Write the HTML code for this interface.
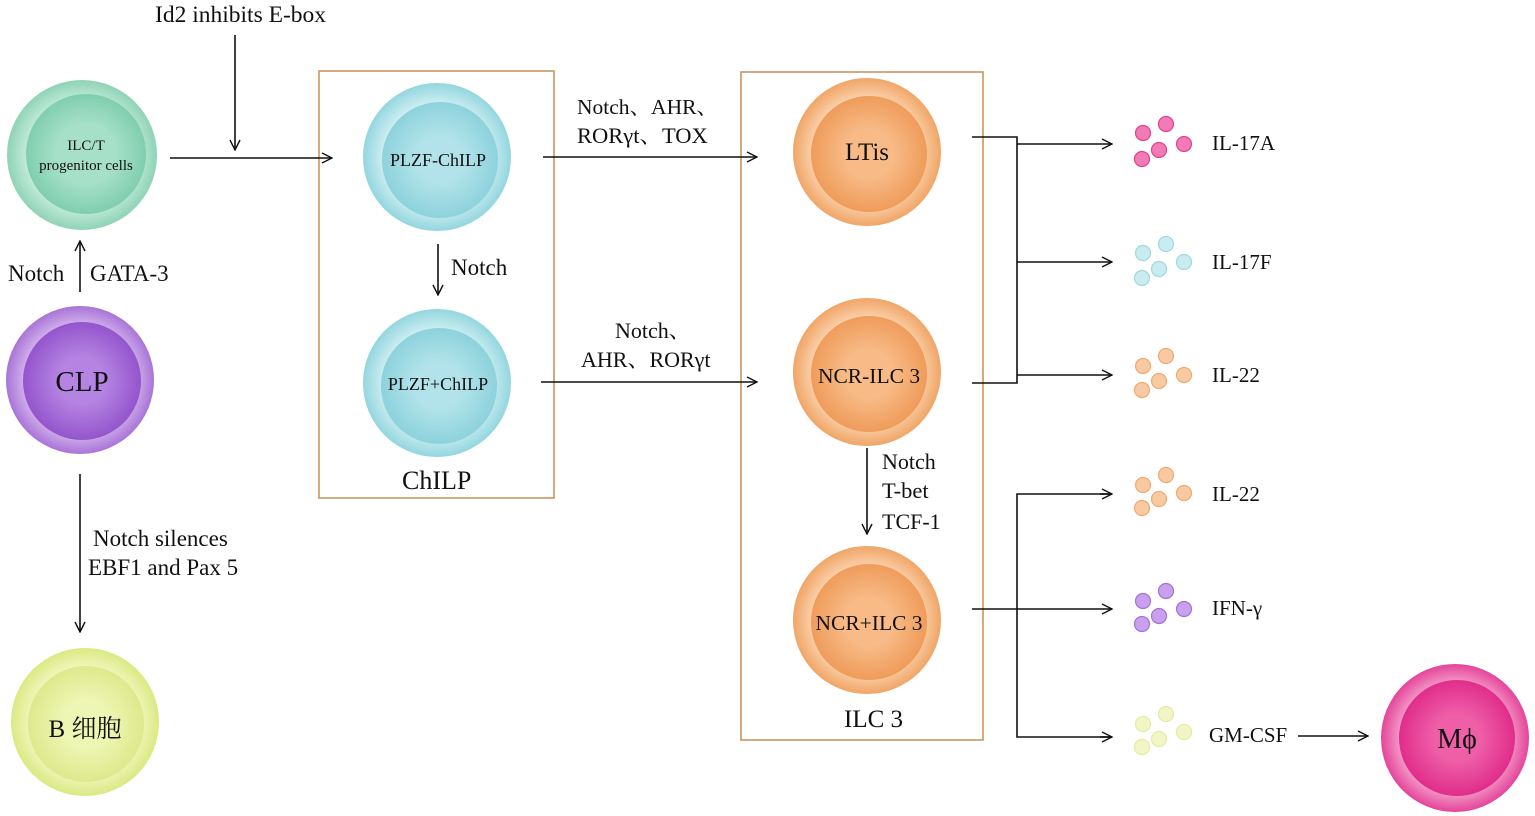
<!DOCTYPE html>
<html><head><meta charset="utf-8"><style>
html,body{margin:0;padding:0;background:#fff;}
svg{display:block;font-family:"Liberation Serif","Noto Serif CJK SC",serif;}
</style></head><body>
<svg width="1535" height="816" viewBox="0 0 1535 816" xmlns="http://www.w3.org/2000/svg">
<defs>
<marker id="ar" viewBox="0 0 12 12" refX="11" refY="6" markerWidth="12" markerHeight="12" markerUnits="userSpaceOnUse" orient="auto">
<path d="M1,1 L11,6 L1,11" fill="none" stroke="#111" stroke-width="1.4"/></marker>
<radialGradient id="to"><stop offset="0.7" stop-color="#c9eedf"/><stop offset="1" stop-color="#8fd3b6"/></radialGradient>
<radialGradient id="ti"><stop offset="0.5" stop-color="#a6e0c8"/><stop offset="1" stop-color="#80ceaf"/></radialGradient>
<radialGradient id="po"><stop offset="0.7" stop-color="#dcbdf2"/><stop offset="1" stop-color="#a874d6"/></radialGradient>
<radialGradient id="pi"><stop offset="0.4" stop-color="#b583e2"/><stop offset="1" stop-color="#9455cc"/></radialGradient>
<radialGradient id="yo"><stop offset="0.7" stop-color="#f3f8c4"/><stop offset="1" stop-color="#dbe983"/></radialGradient>
<radialGradient id="yi"><stop offset="0.4" stop-color="#eef6b4"/><stop offset="1" stop-color="#dde98c"/></radialGradient>
<radialGradient id="bo"><stop offset="0.7" stop-color="#d2f0f3"/><stop offset="1" stop-color="#93d6df"/></radialGradient>
<radialGradient id="bi"><stop offset="0.4" stop-color="#b2e3ea"/><stop offset="1" stop-color="#8dd2dc"/></radialGradient>
<radialGradient id="oo"><stop offset="0.7" stop-color="#fcd6b4"/><stop offset="1" stop-color="#f0a566"/></radialGradient>
<radialGradient id="oi"><stop offset="0.4" stop-color="#f8bb88"/><stop offset="1" stop-color="#ef9c5a"/></radialGradient>
<radialGradient id="ko"><stop offset="0.7" stop-color="#f7a8d0"/><stop offset="1" stop-color="#e4449a"/></radialGradient>
<radialGradient id="ki"><stop offset="0.4" stop-color="#ee5fa8"/><stop offset="1" stop-color="#e02d8a"/></radialGradient>
</defs>

<rect x="319" y="71" width="235" height="427" fill="none" stroke="#c9955f" stroke-width="1.6"/>
<rect x="741" y="72" width="242" height="668" fill="none" stroke="#c9955f" stroke-width="1.6"/>

<g>
<circle cx="82" cy="155" r="75" fill="url(#to)"/><circle cx="86" cy="154" r="60" fill="url(#ti)"/>
<circle cx="80" cy="380" r="74" fill="url(#po)"/><circle cx="82" cy="381" r="59" fill="url(#pi)"/>
<circle cx="85" cy="722" r="74" fill="url(#yo)"/><circle cx="86" cy="724" r="58" fill="url(#yi)"/>
<circle cx="437" cy="157" r="74" fill="url(#bo)"/><circle cx="440" cy="160" r="58" fill="url(#bi)"/>
<circle cx="437" cy="383" r="74" fill="url(#bo)"/><circle cx="439" cy="386" r="58" fill="url(#bi)"/>
<circle cx="867" cy="152" r="74" fill="url(#oo)"/><circle cx="869" cy="154" r="58" fill="url(#oi)"/>
<circle cx="867" cy="372" r="74" fill="url(#oo)"/><circle cx="869" cy="374" r="58" fill="url(#oi)"/>
<circle cx="867" cy="620" r="74" fill="url(#oo)"/><circle cx="869" cy="622" r="58" fill="url(#oi)"/>
<circle cx="1455" cy="738" r="74" fill="url(#ko)"/><circle cx="1457" cy="738" r="58" fill="url(#ki)"/>
</g>

<g stroke-width="1.2">
<g fill="#f27bb5" stroke="#e0428f"><circle cx="1143" cy="133" r="7.5"/><circle cx="1166" cy="124" r="7.5"/><circle cx="1159" cy="150" r="7.5"/><circle cx="1142" cy="159" r="7.5"/><circle cx="1184" cy="144" r="7.5"/></g>
<g fill="#c9ecf0" stroke="#9fd9e1"><circle cx="1143" cy="253" r="7.5"/><circle cx="1166" cy="244" r="7.5"/><circle cx="1159" cy="269" r="7.5"/><circle cx="1142" cy="278" r="7.5"/><circle cx="1184" cy="262" r="7.5"/></g>
<g fill="#f9c9a2" stroke="#f0aa74"><circle cx="1143" cy="366" r="7.5"/><circle cx="1166" cy="356" r="7.5"/><circle cx="1159" cy="381" r="7.5"/><circle cx="1142" cy="390" r="7.5"/><circle cx="1184" cy="375" r="7.5"/></g>
<g fill="#f9c9a2" stroke="#f0aa74"><circle cx="1143" cy="485" r="7.5"/><circle cx="1166" cy="475" r="7.5"/><circle cx="1159" cy="499" r="7.5"/><circle cx="1142" cy="508" r="7.5"/><circle cx="1184" cy="493" r="7.5"/></g>
<g fill="#c9a0ee" stroke="#a273d6"><circle cx="1143" cy="601" r="7.5"/><circle cx="1166" cy="591" r="7.5"/><circle cx="1159" cy="616" r="7.5"/><circle cx="1142" cy="624" r="7.5"/><circle cx="1184" cy="609" r="7.5"/></g>
<g fill="#f2f6c6" stroke="#e4ec9e"><circle cx="1143" cy="724" r="7.5"/><circle cx="1166" cy="714" r="7.5"/><circle cx="1159" cy="739" r="7.5"/><circle cx="1142" cy="747" r="7.5"/><circle cx="1184" cy="732" r="7.5"/></g>
</g>

<g stroke="#111" stroke-width="1.6" fill="none">
<line x1="170" y1="158" x2="332" y2="158" marker-end="url(#ar)"/>
<line x1="235" y1="35" x2="235" y2="150" marker-end="url(#ar)"/>
<line x1="80" y1="292" x2="80" y2="241" marker-end="url(#ar)"/>
<line x1="80" y1="474" x2="80" y2="632" marker-end="url(#ar)"/>
<line x1="438" y1="244" x2="438" y2="295" marker-end="url(#ar)"/>
<line x1="543" y1="157" x2="757" y2="157" marker-end="url(#ar)"/>
<line x1="541" y1="382" x2="757" y2="382" marker-end="url(#ar)"/>
<polyline points="972,137 1017,137 1017,383 972,383"/>
<line x1="1017" y1="144" x2="1112" y2="144" marker-end="url(#ar)"/>
<line x1="1017" y1="262" x2="1112" y2="262" marker-end="url(#ar)"/>
<line x1="1017" y1="375" x2="1112" y2="375" marker-end="url(#ar)"/>
<line x1="867" y1="448" x2="867" y2="534" marker-end="url(#ar)"/>
<line x1="972" y1="609" x2="1112" y2="609" marker-end="url(#ar)"/>
<polyline points="1112,494 1017,494 1017,737 1112,737"/>
<line x1="1100" y1="494" x2="1112" y2="494" marker-end="url(#ar)"/>
<line x1="1100" y1="737" x2="1112" y2="737" marker-end="url(#ar)"/>
<line x1="1298" y1="736" x2="1368" y2="736" marker-end="url(#ar)"/>
</g>

<g fill="#111" font-size="23">
<text x="155" y="22" font-size="23.5">Id2 inhibits E-box</text>
<text x="8" y="281">Notch</text>
<text x="90" y="281">GATA-3</text>
<text x="93" y="546">Notch silences</text>
<text x="88" y="575">EBF1 and Pax 5</text>
<text x="451" y="275">Notch</text>
<text x="577" y="114" font-size="21.5">Notch、AHR、</text>
<text x="577" y="143" font-size="22.5">RORγt、TOX</text>
<text x="615" y="338" font-size="22">Notch、</text>
<text x="581" y="367" font-size="22">AHR、RORγt</text>
<text x="882" y="469" font-size="22">Notch</text>
<text x="882" y="498" font-size="22.5">T-bet</text>
<text x="882" y="529" font-size="22">TCF-1</text>
<text x="402" y="489" font-size="26">ChILP</text>
<text x="844" y="727" font-size="25">ILC 3</text>
</g>
<g fill="#111" font-size="21">
<text x="1212" y="150">IL-17A</text>
<text x="1212" y="269">IL-17F</text>
<text x="1212" y="382">IL-22</text>
<text x="1212" y="501">IL-22</text>
<text x="1212" y="615">IFN-γ</text>
<text x="1209" y="742">GM-CSF</text>
</g>
<g fill="#111" text-anchor="middle">
<text x="86" y="150" font-size="15">ILC/T</text>
<text x="86" y="170" font-size="15">progenitor cells</text>
<text x="82" y="391" font-size="29">CLP</text>
<text x="85" y="737" font-size="25">B 细胞</text>
<text x="438" y="166" font-size="18">PLZF-ChILP</text>
<text x="438" y="390" font-size="18">PLZF+ChILP</text>
<text x="867" y="160" font-size="25">LTis</text>
<text x="869" y="383" font-size="21.5">NCR-ILC 3</text>
<text x="869" y="630" font-size="21.5">NCR+ILC 3</text>
<text x="1457" y="748" font-size="28">Mϕ</text>
</g>
</svg>
</body></html>
